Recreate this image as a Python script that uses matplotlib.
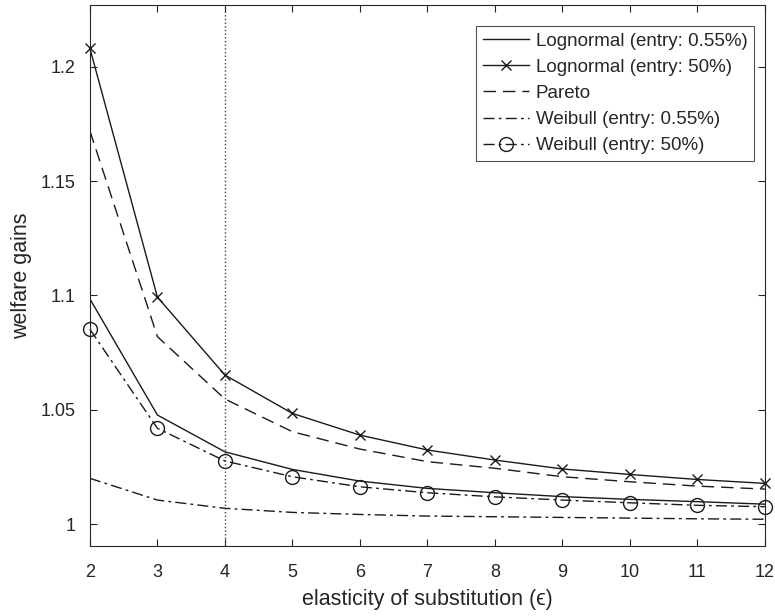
import numpy as np
import matplotlib
matplotlib.use("Agg")
import matplotlib.pyplot as plt

plt.rcParams['font.family'] = ['Liberation Sans', 'DejaVu Sans']

# elasticity of substitution
eps = [2, 3, 4, 5, 6, 7, 8, 9, 10, 11, 12]

# welfare gains
logn_low = [1.0985, 1.0477, 1.0316, 1.0239, 1.0188, 1.0156, 1.0137, 1.0120, 1.0108, 1.0098, 1.0087]
logn_high = [1.2081, 1.0993, 1.0652, 1.0484, 1.0389, 1.0324, 1.0280, 1.0241, 1.0217, 1.0195, 1.0178]
pareto = [1.1720, 1.0820, 1.0547, 1.0404, 1.0328, 1.0273, 1.0244, 1.0207, 1.0185, 1.0166, 1.0153]
weib_low = [1.0200, 1.0105, 1.0069, 1.0051, 1.0042, 1.0035, 1.0032, 1.0029, 1.0026, 1.0023, 1.0021]
weib_high = [1.0852, 1.0419, 1.0276, 1.0207, 1.0163, 1.0137, 1.0119, 1.0105, 1.0093, 1.0082, 1.0076]

labels = ["Lognormal (entry: 0.55%)", "Lognormal (entry: 50%)", "Pareto",
          "Weibull (entry: 0.55%)", "Weibull (entry: 50%)"]

fig = plt.figure(figsize=(7.75, 6.16), dpi=100)
ax = fig.add_axes([0.116, 0.114, 0.871, 0.878])

lc = '#1a1a1a'
lw = 1.0
dd = (8, 3, 2, 3)
ax.plot(eps, logn_low, '-', color=lc, lw=lw, label=labels[0])
ax.plot(eps, logn_high, '-', color=lc, lw=lw, marker='x', ms=7, mew=1.0,
        clip_on=False, label=labels[1])
ax.plot(eps, pareto, '--', color=lc, lw=lw, dashes=(9, 5), label=labels[2])
ax.plot(eps, weib_low, '-.', color=lc, lw=lw, dashes=dd, label=labels[3])
ax.plot(eps, weib_high, '-.', color=lc, lw=lw, dashes=dd, marker='o', ms=10,
        mfc='none', mew=1.0, clip_on=False, label=labels[4])

ax.axvline(4, color='#404040', lw=1.0, ls=':')

ax.set_xlim(2, 12)
ax.set_ylim(0.9905, 1.2271)
ax.set_xticks(range(2, 13))
ax.set_yticks([1.0, 1.05, 1.1, 1.15, 1.2])
ax.set_yticklabels(['1', '1.05', '1.1', '1.15', '1.2'])

axc = '#262626'
for s in ax.spines.values():
    s.set_color(axc)
    s.set_linewidth(0.8)
ax.tick_params(direction='in', top=True, right=True, length=5, width=0.8,
               colors=axc, labelsize=13)
ax.tick_params(axis='x', pad=13)
ax.tick_params(axis='y', pad=10.5)

ax.set_xlabel('elasticity of substitution (\u03f5)', fontsize=15.5, color=axc, labelpad=6)
ax.set_ylabel('welfare gains', fontsize=15.5, color=axc, labelpad=6)

leg = ax.legend(loc='upper right', bbox_to_anchor=(0.9837, 0.961), fontsize=13.5,
                frameon=True, fancybox=False, handlelength=2.45, handletextpad=0.37,
                borderpad=0.35, labelspacing=0.48, borderaxespad=0.0)
leg.get_frame().set_edgecolor(axc)
leg.get_frame().set_linewidth(0.8)
for t in leg.get_texts():
    t.set_color(axc)

fig.savefig('out.png', dpi=100)
